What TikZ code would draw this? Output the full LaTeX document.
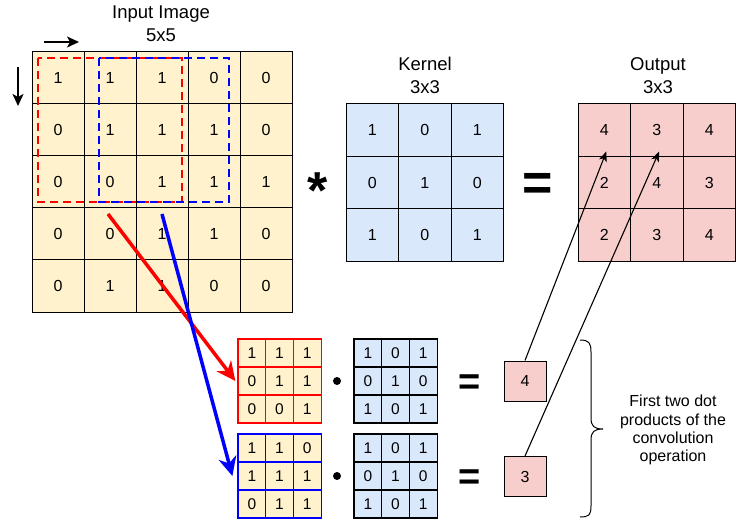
\documentclass[tikz,border=0pt]{standalone}
\usepackage{fontspec}
\setmainfont{Liberation Sans}
\usetikzlibrary{arrows.meta,calc}
\definecolor{inyel}{HTML}{FFF2CC}
\definecolor{kblue}{HTML}{DAE8FC}
\definecolor{outred}{HTML}{F8CECC}
\definecolor{dred}{HTML}{FF0000}
\definecolor{dblue}{HTML}{0000FF}
\begin{document}
\begin{tikzpicture}[x=1pt,y=-1pt,
  bigcell/.style={draw=black, line width=1pt, inner sep=0pt, minimum width=52pt, minimum height=52pt, font=\fontsize{16}{19}\selectfont},
  kcell/.style={draw=black, line width=1pt, inner sep=0pt, minimum width=52.5pt, minimum height=52.5pt, font=\fontsize{16}{19}\selectfont},
  smallcell/.style={line width=1.2pt, inner sep=0pt, minimum width=27.7pt, minimum height=28pt, font=\fontsize{15.5}{18}\selectfont},
  titletext/.style={align=center, font=\fontsize{18.5}{23}\selectfont, inner sep=0pt},
  dashrect/.style={line width=2.6pt, dash pattern=on 8pt off 5pt},
  slidearrow/.style={line width=3.5pt, -{Stealth[length=19pt,width=18pt,inset=6pt]}},
  thinarrow/.style={line width=1.1pt, -{Stealth[length=10pt,width=8pt,inset=2.5pt]}},
  dirarrow/.style={line width=1.3pt, -{Stealth[length=12pt,width=11pt,inset=3pt]}},
  resbox/.style={draw=black, fill=outred, line width=1pt, inner sep=0pt, minimum width=42pt, minimum height=40pt, font=\fontsize{16}{19}\selectfont},
  dotop/.style={circle, fill=black, inner sep=0pt, minimum size=8pt},
  bigsym/.style={inner sep=0pt, anchor=base, font=\fontsize{52}{52}\selectfont\bfseries},
  midsym/.style={inner sep=0pt, anchor=base, font=\fontsize{38}{38}\selectfont\bfseries}
]
\useasboundingbox (0,0) rectangle (736,521);

% titles
\node[titletext] (tin) at (161,23.5) {Input Image\\5x5};
\node[titletext] (tker) at (425,75.5) {Kernel\\3x3};
\node[titletext] (tout) at (658,75.5) {Output\\3x3};

% input grid
\foreach \row [count=\r from 0] in {{1,1,1,0,0},{0,1,1,1,0},{0,0,1,1,1},{0,0,1,1,0},{0,1,1,0,0}} {
  \foreach \v [count=\c from 0] in \row {
    \node[bigcell, fill=inyel] (in-\r-\c) at ({58+52*\c},{78+52*\r}) {\v};
  }
}
% kernel grid
\foreach \row [count=\r from 0] in {{1,0,1},{0,1,0},{1,0,1}} {
  \foreach \v [count=\c from 0] in \row {
    \node[kcell, fill=kblue] (k-\r-\c) at ({372.25+52.5*\c},{130.25+52.5*\r}) {\v};
  }
}
% output grid
\foreach \row [count=\r from 0] in {{4,3,4},{2,4,3},{2,3,4}} {
  \foreach \v [count=\c from 0] in \row {
    \node[kcell, fill=outred] (out-\r-\c) at ({604.25+52.5*\c},{130.25+52.5*\r}) {\v};
  }
}

% dashed windows
\draw[dashrect, dred] (38,58) rectangle (182,202);
\draw[dashrect, dblue] (99,58) rectangle (229,202);

% operators
\node[bigsym] (star) at (318,209) {*};
\node[bigsym] (eqbig) at (537.5,200.5) {=};

% direction arrows
\coordinate (ha) at (44,42);
\coordinate (hb) at (79,42);
\coordinate (va) at (18,67);
\coordinate (vb) at (18,106);
\draw[dirarrow] (ha) -- (hb);
\draw[dirarrow] (va) -- (vb);

% small patches
\foreach \row [count=\r from 0] in {{1,1,1},{0,1,1},{0,0,1}} {
  \foreach \v [count=\c from 0] in \row {
    \node[smallcell, draw=dred, fill=inyel] (sr-\r-\c) at ({251.85+27.7*\c},{353+28*\r}) {\v};
  }
}
\foreach \row [count=\r from 0] in {{1,1,0},{1,1,1},{0,1,1}} {
  \foreach \v [count=\c from 0] in \row {
    \node[smallcell, draw=dblue, fill=inyel] (sb-\r-\c) at ({251.85+27.7*\c},{448+28*\r}) {\v};
  }
}
\foreach \row [count=\r from 0] in {{1,0,1},{0,1,0},{1,0,1}} {
  \foreach \v [count=\c from 0] in \row {
    \node[smallcell, draw=black, fill=kblue] (ska-\r-\c) at ({367.85+27.7*\c},{353+28*\r}) {\v};
    \node[smallcell, draw=black, fill=kblue] (skb-\r-\c) at ({367.85+27.7*\c},{448+28*\r}) {\v};
  }
}

% dot and equals
\node[dotop] (dota) at (337,381) {};
\node[dotop] (dotb) at (337,476) {};
\node[midsym] (eqa) at (470,394.3) {=};
\node[midsym] (eqb) at (470,489.3) {=};

% results
\node[resbox] (r4) at (525,381) {4};
\node[resbox] (r3) at (525,476.5) {3};

% sliding arrows
\coordinate (rs) at (108,214);
\coordinate (bs) at (162,214);
\draw[slidearrow, dred] (rs) -- ($(sr-1-0.west)+(-2,0)$);
\draw[slidearrow, dblue] (bs) -- ($(sb-1-0.west)+(-5,0)$);

% result arrows
\draw[thinarrow, shorten >=-6pt] (r4.north) -- (out-0-0.south);
\draw[thinarrow, shorten >=-6pt] (r3.north) -- (out-0-1.south);

% brace
\draw[line width=1pt] (580,340) .. controls (589,340) and (591,343) .. (591,352) -- (591,418) .. controls (591,426) and (594,429) .. (603,429) .. controls (594,429) and (591,432) .. (591,440) -- (591,506) .. controls (591,515) and (589,517) .. (580,517);
\node[align=center, font=\fontsize{16}{18.2}\selectfont, inner sep=0pt] (note) at (673,430) {First two dot\\products of the\\convolution\\operation};
\end{tikzpicture}
\end{document}
